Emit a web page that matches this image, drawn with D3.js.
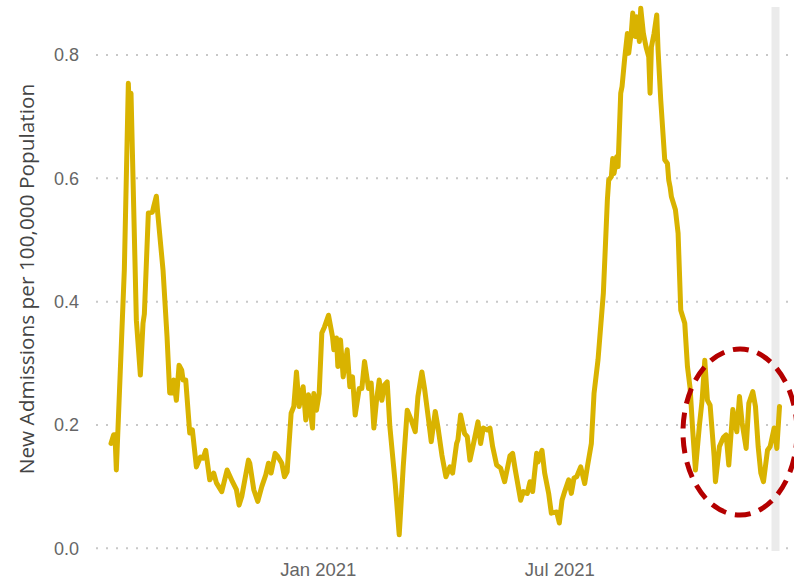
<!DOCTYPE html>
<html>
<head>
<meta charset="utf-8">
<script src="https://cdn.jsdelivr.net/npm/d3@7"></script>
<style>
  body { margin: 0; background: #fff; }
  svg { display: block; font-family: "Open Sans", "Noto Sans", sans-serif; }
</style>
</head>
<body>
<div class="chart"></div>
<script>
// Data (new admissions per 100,000)
var dates = [
  "2020-07-30","2020-08-01","2020-08-02","2020-08-03","2020-08-09","2020-08-12","2020-08-13","2020-08-14",
  "2020-08-18","2020-08-21","2020-08-23","2020-08-24","2020-08-27","2020-08-30","2020-08-31","2020-09-02",
  "2020-09-03","2020-09-07","2020-09-10","2020-09-12","2020-09-14","2020-09-15","2020-09-17","2020-09-19",
  "2020-09-21","2020-09-22","2020-09-24","2020-09-27","2020-09-29","2020-10-02","2020-10-05","2020-10-07",
  "2020-10-09","2020-10-12","2020-10-15","2020-10-17","2020-10-21","2020-10-25","2020-10-29","2020-11-01",
  "2020-11-03","2020-11-05","2020-11-10","2020-11-11","2020-11-14","2020-11-17","2020-11-20","2020-11-23",
  "2020-11-25","2020-11-27","2020-11-30","2020-12-02","2020-12-05","2020-12-07","2020-12-09","2020-12-12",
  "2020-12-14","2020-12-16","2020-12-18","2020-12-21","2020-12-23","2020-12-25","2020-12-28","2020-12-29",
  "2020-12-31","2021-01-02","2021-01-04","2021-01-06","2021-01-09","2021-01-12","2021-01-13","2021-01-15",
  "2021-01-16","2021-01-18","2021-01-20","2021-01-23","2021-01-25","2021-01-27","2021-01-29","2021-02-01",
  "2021-02-03","2021-02-05","2021-02-08","2021-02-10","2021-02-12","2021-02-14","2021-02-16","2021-02-18",
  "2021-02-20","2021-02-22","2021-02-24","2021-02-28","2021-03-03","2021-03-06","2021-03-09","2021-03-12",
  "2021-03-15","2021-03-17","2021-03-20","2021-03-22","2021-03-25","2021-03-27","2021-03-30","2021-04-01",
  "2021-04-04","2021-04-07","2021-04-10","2021-04-12","2021-04-15","2021-04-16","2021-04-18","2021-04-21",
  "2021-04-23","2021-04-25","2021-04-28","2021-05-01","2021-05-03","2021-05-05","2021-05-08","2021-05-10",
  "2021-05-12","2021-05-15","2021-05-18","2021-05-21","2021-05-25","2021-05-27","2021-05-29","2021-06-02",
  "2021-06-04","2021-06-07","2021-06-09","2021-06-11","2021-06-14","2021-06-15","2021-06-18","2021-06-20",
  "2021-06-23","2021-06-25","2021-06-29","2021-07-01","2021-07-03","2021-07-05","2021-07-08","2021-07-10",
  "2021-07-12","2021-07-14","2021-07-17","2021-07-20","2021-07-22","2021-07-25","2021-07-27","2021-07-30",
  "2021-08-03","2021-08-06","2021-08-07","2021-08-09","2021-08-10","2021-08-11","2021-08-13","2021-08-14",
  "2021-08-16","2021-08-17","2021-08-19","2021-08-21","2021-08-22","2021-08-24","2021-08-25","2021-08-27",
  "2021-08-28","2021-08-30","2021-08-31","2021-09-02","2021-09-04","2021-09-06","2021-09-07","2021-09-08",
  "2021-09-10","2021-09-12","2021-09-13","2021-09-15","2021-09-18","2021-09-20","2021-09-21","2021-09-22",
  "2021-09-23","2021-09-26","2021-09-28","2021-09-30","2021-10-03","2021-10-05","2021-10-07","2021-10-09",
  "2021-10-11","2021-10-14","2021-10-16","2021-10-18","2021-10-20","2021-10-22","2021-10-25","2021-10-26",
  "2021-10-29","2021-11-01","2021-11-03","2021-11-05","2021-11-08","2021-11-11","2021-11-13","2021-11-15",
  "2021-11-18","2021-11-20","2021-11-23","2021-11-25","2021-11-27","2021-11-29","2021-12-01","2021-12-04",
  "2021-12-06","2021-12-09","2021-12-11","2021-12-13"
];
var values = [
  0.170,0.184,0.184,0.127,0.452,0.754,0.690,0.738,
  0.370,0.281,0.365,0.380,0.544,0.545,0.554,0.571,
  0.544,0.451,0.343,0.252,0.252,0.273,0.240,0.297,
  0.289,0.273,0.273,0.187,0.192,0.132,0.148,0.146,
  0.159,0.111,0.122,0.106,0.092,0.127,0.108,0.095,
  0.070,0.084,0.143,0.138,0.095,0.076,0.100,0.119,
  0.138,0.122,0.154,0.149,0.138,0.116,0.124,0.219,
  0.230,0.286,0.230,0.262,0.208,0.249,0.195,0.251,
  0.224,0.251,0.349,0.359,0.378,0.343,0.322,0.341,
  0.295,0.338,0.278,0.322,0.262,0.278,0.216,0.259,
  0.259,0.303,0.259,0.268,0.195,0.240,0.273,0.240,
  0.265,0.270,0.197,0.105,0.022,0.132,0.224,0.208,
  0.189,0.246,0.286,0.259,0.208,0.173,0.222,0.197,
  0.151,0.116,0.132,0.122,0.170,0.176,0.216,0.186,
  0.181,0.143,0.173,0.205,0.170,0.195,0.192,0.195,
  0.165,0.135,0.130,0.108,0.150,0.154,0.127,0.078,
  0.092,0.089,0.108,0.092,0.154,0.140,0.159,0.122,
  0.089,0.057,0.059,0.041,0.078,0.092,0.111,0.089,
  0.114,0.116,0.132,0.105,0.132,0.170,0.251,0.306,
  0.414,0.565,0.597,0.603,0.632,0.608,0.635,0.619,
  0.738,0.749,0.795,0.835,0.803,0.838,0.868,0.830,
  0.862,0.822,0.876,0.835,0.813,0.797,0.738,0.813,
  0.835,0.865,0.808,0.727,0.630,0.624,0.597,0.586,
  0.570,0.549,0.511,0.386,0.365,0.295,0.260,0.190,
  0.127,0.200,0.240,0.305,0.240,0.232,0.149,0.108,
  0.165,0.180,0.184,0.135,0.225,0.189,0.246,0.203,
  0.162,0.235,0.254,0.230,0.165,0.122,0.108,0.159,
  0.165,0.195,0.162,0.230
];
var yTicks = [0, 0.2, 0.4, 0.6, 0.8];
var xTicks = ["2021-01-01", "2021-07-01"];
var highlight = ["2021-12-07", "2021-12-13"];

var width = 794;
var height = 581;
var parse = d3.timeParse("%Y-%m-%d");

var data = dates.map(function(d, i) {
  return { date: parse(d), value: values[i] };
});

var svg = d3.select(".chart").append("svg")
    .attr("width", width)
    .attr("height", height);

var x = d3.scaleTime()
    .domain([parse(dates[0]), parse(dates[dates.length - 1])])
    .range([111, 779.5]);

var y = d3.scaleLinear()
    .domain([0, 0.8])
    .range([548.3, 55]);

// dotted gridlines
svg.append("g")
  .selectAll("line")
  .data(yTicks)
  .enter().append("line")
    .attr("x1", 96)
    .attr("x2", width)
    .attr("y1", function(d) { return y(d); })
    .attr("y2", function(d) { return y(d); })
    .attr("stroke", "#c8c8c8")
    .attr("stroke-width", 2)
    .attr("stroke-dasharray", "2,8");

// grey band at the end
svg.append("rect")
    .attr("x", x(parse(highlight[0])))
    .attr("width", x(parse(highlight[1])) - x(parse(highlight[0])))
    .attr("y", 7)
    .attr("height", 544)
    .attr("fill", "#ebebeb");

// y axis
var yAxis = svg.append("g")
    .attr("transform", "translate(95,0)")
    .call(d3.axisLeft(y).tickValues(yTicks).tickFormat(d3.format(".1f")).tickSize(0).tickPadding(16));
yAxis.select(".domain").remove();
yAxis.selectAll("text")
    .attr("fill", "#666")
    .style("font-size", "18px");

// x axis
var xAxis = svg.append("g")
    .attr("transform", "translate(0,557)")
    .call(d3.axisBottom(x).tickValues(xTicks.map(parse)).tickFormat(d3.timeFormat("%b %Y")).tickSize(0).tickPadding(0));
xAxis.select(".domain").remove();
xAxis.selectAll("text")
    .attr("fill", "#666")
    .attr("dy", "1em")
    .style("font-size", "18.5px");

// axis title
svg.append("text")
    .attr("transform", "translate(34,279) rotate(-90)")
    .attr("text-anchor", "middle")
    .attr("fill", "#444")
    .style("font-size", "20.8px")
    .text("New Admissions per 100,000 Population");

// line
var line = d3.line()
    .x(function(d) { return x(d.date); })
    .y(function(d) { return y(d.value); });

svg.append("path")
    .datum(data)
    .attr("fill", "none")
    .attr("stroke", "#d9b300")
    .attr("stroke-width", 5)
    .attr("stroke-linejoin", "round")
    .attr("stroke-linecap", "round")
    .attr("d", line);

// dashed red ellipse
svg.append("ellipse")
    .attr("cx", 740)
    .attr("cy", 432)
    .attr("rx", 57)
    .attr("ry", 83)
    .attr("fill", "none")
    .attr("stroke", "#b40000")
    .attr("stroke-width", 5)
    .attr("stroke-dasharray", "16,9");
</script>
</body>
</html>
